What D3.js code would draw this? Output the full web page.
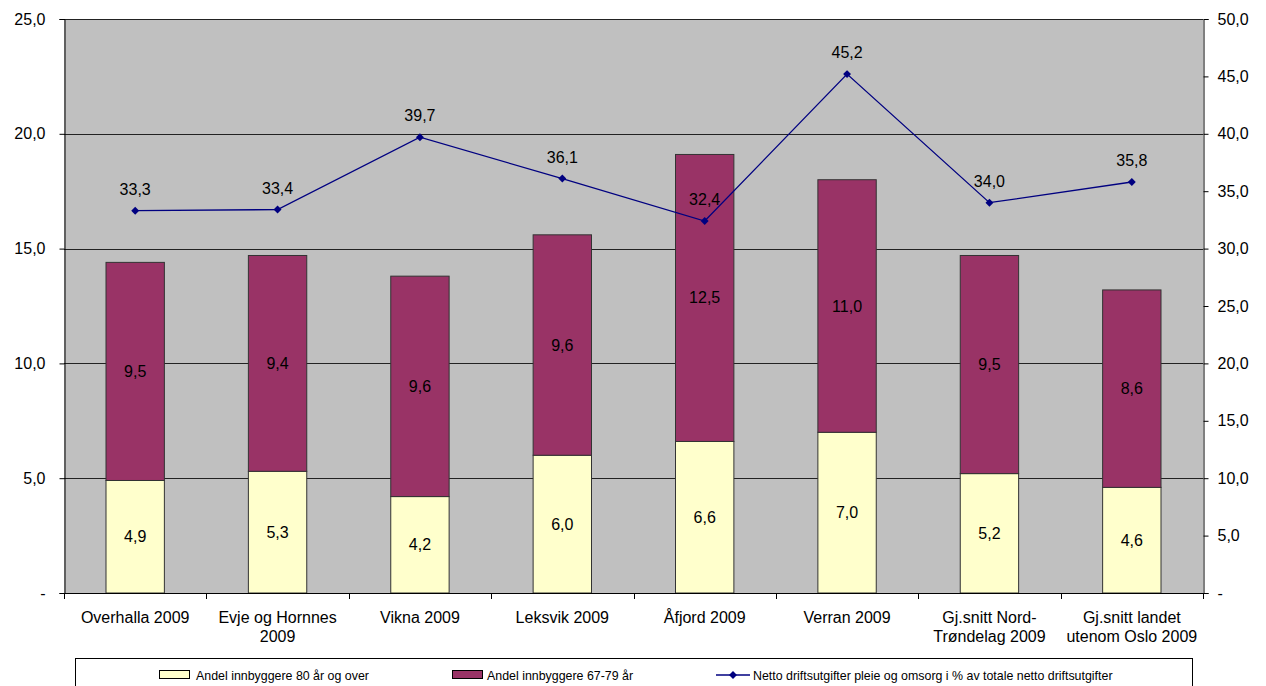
<!DOCTYPE html>
<html><head><meta charset="utf-8">
<script src="https://cdn.jsdelivr.net/npm/d3@7"></script>
<style>
html,body{margin:0;padding:0;background:#fff;}
svg{display:block;font-family:"Liberation Sans",Arial,sans-serif;}
</style></head>
<body>
<svg id="c" width="1266" height="686"></svg>
<script>
const categories = ["Overhalla 2009","Evje og Hornnes 2009","Vikna 2009","Leksvik 2009","Åfjord 2009","Verran 2009","Gj.snitt Nord-Trøndelag 2009","Gj.snitt landet utenom Oslo 2009"];
const categoryLines = [["Overhalla 2009"],["Evje og Hornnes","2009"],["Vikna 2009"],["Leksvik 2009"],["Åfjord 2009"],["Verran 2009"],["Gj.snitt Nord-","Trøndelag 2009"],["Gj.snitt landet","utenom Oslo 2009"]];
const share80 = [4.9,5.3,4.2,6.0,6.6,7.0,5.2,4.6];
const share6779 = [9.5,9.4,9.6,9.6,12.5,11.0,9.5,8.6];
const nettoPct = [33.3,33.4,39.7,36.1,32.4,45.2,34.0,35.8];
const leftTicks = [0,5,10,15,20,25];
const rightTicks = [0,5,10,15,20,25,30,35,40,45,50];
const seriesNames = ["Andel innbyggere 80 år og over","Andel innbyggere 67-79 år","Netto driftsutgifter pleie og omsorg i % av totale netto driftsutgifter"];

const fmt = v => v === 0 ? "-" : v.toFixed(1).replace(".", ",");
const svg = d3.select("#c");
const L = 64, R = 1203, T = 19, B = 593;
const x = d3.scaleBand().domain(categories).range([L, R]).padding(0);
const yL = d3.scaleLinear().domain([0,25]).range([B, T]);
const yR = d3.scaleLinear().domain([0,50]).range([B, T]);
const bw = x.bandwidth() * 0.41;

svg.append("rect").attr("x", L).attr("y", T).attr("width", R - L).attr("height", B - T).attr("fill", "#C0C0C0");

// gridlines
svg.append("g").selectAll("line").data(leftTicks.filter(d => d > 0)).join("line")
  .attr("x1", L).attr("x2", R).attr("y1", d => Math.round(yL(d)) + 0.5).attr("y2", d => Math.round(yL(d)) + 0.5)
  .attr("stroke", "#222").attr("stroke-width", 1);

// stacked bars
const stack = categories.map((c, i) => ({c, a: share80[i], b: share6779[i]}));
const g = svg.append("g");
g.selectAll("rect.a").data(stack).join("rect").attr("class","a")
  .attr("x", d => x(d.c) + (x.bandwidth() - bw) / 2).attr("width", bw)
  .attr("y", d => yL(d.a)).attr("height", d => yL(0) - yL(d.a))
  .attr("fill", "#FFFFCC").attr("stroke", "#333").attr("stroke-width", 1);
g.selectAll("rect.b").data(stack).join("rect").attr("class","b")
  .attr("x", d => x(d.c) + (x.bandwidth() - bw) / 2).attr("width", bw)
  .attr("y", d => yL(d.a + d.b)).attr("height", d => yL(d.a) - yL(d.a + d.b))
  .attr("fill", "#993366").attr("stroke", "#333").attr("stroke-width", 1);

// bar labels
g.selectAll("text.a").data(stack).join("text").attr("class","a")
  .attr("x", d => x(d.c) + x.bandwidth() / 2).attr("y", d => yL(d.a / 2))
  .attr("text-anchor","middle").attr("dominant-baseline","central")
  .attr("font-size", 16).attr("fill","#000").text(d => fmt(d.a));
g.selectAll("text.b").data(stack).join("text").attr("class","b")
  .attr("x", d => x(d.c) + x.bandwidth() / 2).attr("y", d => yL(d.a + d.b / 2))
  .attr("text-anchor","middle").attr("dominant-baseline","central")
  .attr("font-size", 16).attr("fill","#000").text(d => fmt(d.b));

// axes
const axL = d3.axisLeft(yL).tickValues(leftTicks).tickFormat(fmt).tickSize(5).tickPadding(14);
const gl = svg.append("g").attr("transform", `translate(${L + 0.5},0)`).call(axL);
const axR = d3.axisRight(yR).tickValues(rightTicks).tickFormat(fmt).tickSize(5).tickPadding(9);
const gr = svg.append("g").attr("transform", `translate(${R + 0.5},0)`).call(axR);
[gl, gr].forEach(a => {
  a.select(".domain").attr("stroke", "#000").attr("stroke-width", 1);
  a.selectAll(".tick line").attr("stroke", "#000");
  a.selectAll(".tick text").attr("font-size", 16).attr("fill", "#000").attr("font-family", "Liberation Sans, Arial, sans-serif");
});

// x axis line and ticks at band boundaries
svg.append("line").attr("x1", L).attr("x2", R + 1).attr("y1", B + 0.5).attr("y2", B + 0.5).attr("stroke", "#000");
const bounds = categories.map(c => x(c)).concat([R]);
svg.append("g").selectAll("line").data(bounds).join("line")
  .attr("x1", d => Math.round(d) + 0.5).attr("x2", d => Math.round(d) + 0.5)
  .attr("y1", B).attr("y2", B + 6).attr("stroke", "#000");

// category labels
const cl = svg.append("g").selectAll("text").data(categories).join("text")
  .attr("x", d => x(d) + x.bandwidth() / 2).attr("y", 623)
  .attr("text-anchor","middle").attr("font-size", 16).attr("fill", "#000");
cl.each(function(d, i) {
  d3.select(this).selectAll("tspan").data(categoryLines[i]).join("tspan")
    .attr("x", x(d) + x.bandwidth() / 2).attr("dy", (t, j) => j === 0 ? 0 : 19).text(t => t);
});

// line series
const pts = categories.map((c, i) => [x(c) + x.bandwidth() / 2, yR(nettoPct[i])]);
svg.append("path").attr("d", d3.line()(pts)).attr("fill","none").attr("stroke","#000080").attr("stroke-width",1.3);
svg.append("g").selectAll("path").data(pts).join("path")
  .attr("transform", d => `translate(${d[0]},${d[1]})`)
  .attr("d", d3.symbol(d3.symbolDiamond2, 40)).attr("fill", "#000080");
svg.append("g").selectAll("text").data(categories).join("text")
  .attr("x", (c) => x(c) + x.bandwidth() / 2).attr("y", (c, i) => yR(nettoPct[i]) - 16)
  .attr("text-anchor","middle").attr("font-size", 16).attr("fill","#000")
  .text((c, i) => fmt(nettoPct[i]));

// legend
const lg = svg.append("g");
lg.append("rect").attr("x", 75.5).attr("y", 658.5).attr("width", 1117).attr("height", 40).attr("fill","#fff").attr("stroke","#000");
const ly = 675;
lg.append("rect").attr("x", 159.5).attr("y", ly - 4.5).attr("width", 30).attr("height", 8).attr("fill","#FFFFCC").attr("stroke","#000");
lg.append("text").attr("x", 196).attr("y", ly + 4.5).attr("font-size", 12.4).text(seriesNames[0]);
lg.append("rect").attr("x", 452.5).attr("y", ly - 4.5).attr("width", 30).attr("height", 8).attr("fill","#993366").attr("stroke","#000");
lg.append("text").attr("x", 487).attr("y", ly + 4.5).attr("font-size", 12.4).text(seriesNames[1]);
lg.append("line").attr("x1", 716).attr("x2", 750).attr("y1", ly).attr("y2", ly).attr("stroke","#000080").attr("stroke-width",1.3);
lg.append("path").attr("transform", `translate(733,${ly})`).attr("d", d3.symbol(d3.symbolDiamond2, 40)).attr("fill","#000080");
lg.append("text").attr("x", 753).attr("y", ly + 4.5).attr("font-size", 12.4).text(seriesNames[2]);
</script>
</body></html>
